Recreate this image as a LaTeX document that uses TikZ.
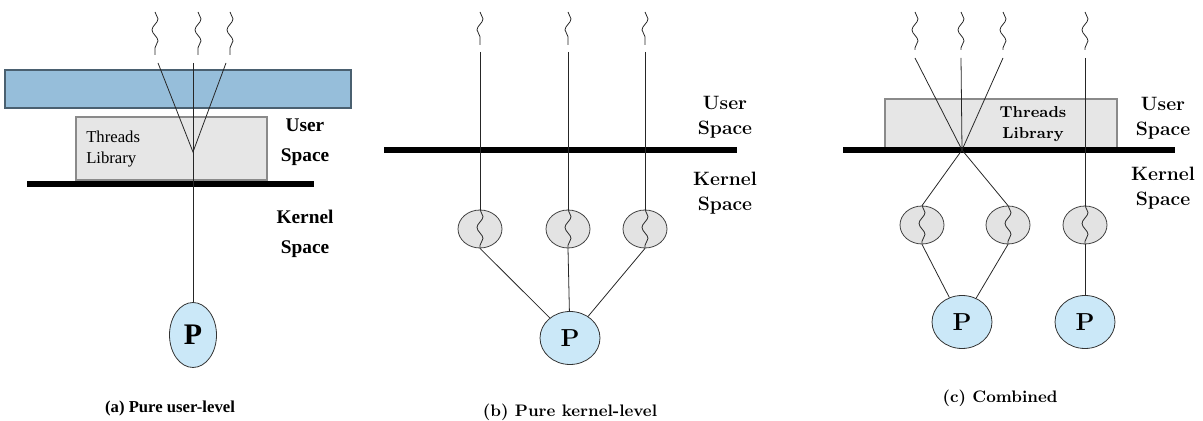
\documentclass[tikz,border=0pt]{standalone}
\usepackage{fontspec}
\newfontfamily\timesfont{Liberation Serif}
\usetikzlibrary{shapes.geometric,decorations.pathmorphing}
\tikzset{decoration={snake,segment length=4.4mm,amplitude=0.6mm}}

\definecolor{barfill}{HTML}{96BEDA}
\definecolor{barline}{HTML}{4A6070}
\definecolor{libfill}{HTML}{E6E6E6}
\definecolor{libline}{HTML}{8A8A8A}
\definecolor{ktfill}{HTML}{E3E3E3}
\definecolor{pfill}{HTML}{CBE8F8}

\begin{document}
\begin{tikzpicture}[x=0.02cm,y=-0.02cm,line width=0.45pt,draw=black!85]

\tikzstyle{bar}=[draw=black,line width=3.4pt]
\tikzstyle{lib}=[draw=libline,fill=libfill,line width=0.8pt,inner sep=0pt]
\tikzstyle{kt}=[ellipse,draw=black!75,fill=ktfill,minimum width=0.88cm,
  minimum height=0.76cm,inner sep=0pt]
\tikzstyle{proc}=[ellipse,draw=black!80,fill=pfill,minimum width=1.2cm,
  minimum height=1.06cm,inner sep=0pt,font=\bfseries\fontsize{14}{14}\selectfont]
\tikzstyle{spacelbl}=[align=center,font=\bfseries\fontsize{11}{14.5}\selectfont]
\tikzstyle{captxt}=[font=\bfseries\fontsize{9.5}{11}\selectfont]

\useasboundingbox (0,0) rectangle (1203,421);

% (a) pure user-level
\draw[draw=barline,fill=barfill,line width=1.4pt] (5,70) rectangle (351,108);
\node[lib,minimum width=3.82cm,minimum height=1.26cm] (liba) at (171.5,148.5) {};
\node[anchor=west,align=left,font=\timesfont\fontsize{9.5}{12.5}\selectfont]
  (libatxt) at (80,149) {Threads\\Library};
\draw[bar] (27,184) -- (314,184);
\foreach \i/\x/\s in {1/158/155,2/193/198,3/226/230}{
  \draw[decorate] (\s,12) -- (\s,55);
  \coordinate (ua\i) at (\x,63);
}
\coordinate (ja) at (193,152);
\node[proc,minimum width=0.94cm,minimum height=1.3cm,
  font=\timesfont\bfseries\fontsize{17}{17}\selectfont] (pa) at (193,335) {P};
\draw (ua1) -- (ja) -- (ua3);
\draw (ua2) -- (pa);
\node[align=center,font=\timesfont\bfseries\fontsize{11}{17}\selectfont]
  (usa) at (305,142) {User\\Space};
\node[align=center,font=\timesfont\bfseries\fontsize{11}{17}\selectfont]
  (ksa) at (305,234) {Kernel\\Space};
\node[font=\timesfont\bfseries\fontsize{9.5}{11}\selectfont] (capa) at (170,408)
  {(a) Pure user-level};

% (b) pure kernel-level
\draw[bar] (384,150) -- (737,150);
\foreach \i/\x in {1/480,2/568,3/645}{
  \draw[decorate] (\x,12) -- (\x,45);
  \coordinate (ub\i) at (\x,52);
  \node[kt] (kb\i) at (\x,229) {};
  \draw[decorate] (kb\i.north) -- (kb\i.south);
  \draw (ub\i) -- (kb\i);
}
\node[proc] (pb) at (570,338) {P};
\foreach \i in {1,2,3}
  \draw (kb\i.south) -- (pb);
\node[spacelbl] (usb) at (725,117) {User\\Space};
\node[spacelbl] (ksb) at (725,193) {Kernel\\Space};
\node[captxt] (capb) at (570,412) {(b) Pure kernel-level};

% (c) combined
\node[lib,minimum width=4.64cm,minimum height=0.98cm] (libc) at (1001,123.5) {};
\node[align=center,font=\bfseries\fontsize{9}{11.5}\selectfont]
  (libctxt) at (1033,124) {Threads\\Library};
\draw[bar] (843,150) -- (1175,150);
\foreach \i/\x in {1/915,2/961,3/1003,4/1085}{
  \draw[decorate] (\x,12) -- (\x,50);
  \coordinate (uc\i) at (\x,58);
}
\coordinate (jc) at (962,150);
\node[kt] (kc1) at (922,225) {};
\node[kt] (kc2) at (1008,225) {};
\node[kt] (kc3) at (1085,225) {};
\foreach \i in {1,2,3}
  \draw[decorate] (kc\i.north) -- (kc\i.south);
\node[proc] (pc1) at (962,322) {P};
\node[proc] (pc2) at (1085,322) {P};
\draw (uc1) -- (jc);
\draw (uc2) -- (jc);
\draw (uc3) -- (jc);
\draw (jc) -- (kc1.north);
\draw (jc) -- (kc2.north);
\draw (uc4) -- (kc3.north);
\draw (kc1.south) -- (pc1);
\draw (kc2.south) -- (pc1);
\draw (kc3) -- (pc2);
\node[spacelbl] (usc) at (1163,118) {User\\Space};
\node[spacelbl] (ksc) at (1163,188) {Kernel\\Space};
\node[captxt] (capc) at (1000,398) {(c) Combined};

\end{tikzpicture}
\end{document}
